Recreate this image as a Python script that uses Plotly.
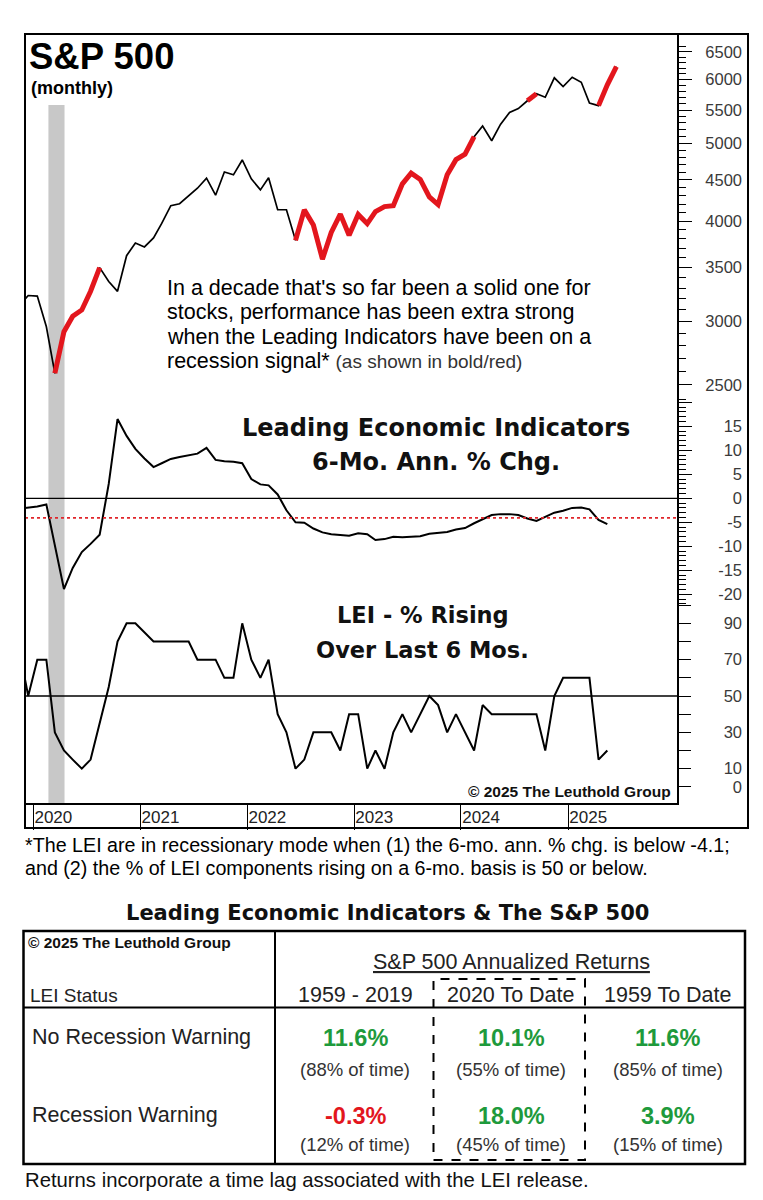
import plotly.graph_objects as go
import pandas as pd

W, H = 763, 1200


def px(x):
    return x / W


def py(y):
    return 1 - y / H


ARIAL = "Liberation Sans, Arial, sans-serif"
GEO = "DejaVu Sans, Liberation Sans, sans-serif"

# ---------------- data ----------------
sp500_start = "2019-11-01"
sp500 = [3141, 3231,
         3226, 2954, 2585, 2912, 3044, 3100, 3271, 3500, 3363, 3270, 3622, 3756,
         3714, 3811, 3973, 4181, 4204, 4298, 4395, 4523, 4308, 4605, 4567, 4766,
         4516, 4374, 4530, 4132, 4132, 3785, 4130, 3955, 3586, 3872, 4080, 3840,
         4077, 3970, 4109, 4169, 4180, 4450, 4589, 4508, 4288, 4194, 4568, 4770,
         4846, 5096, 5254, 5036, 5278, 5460, 5522, 5648, 5762, 5705, 6032, 5882,
         6041, 5955, 5612, 5569, 5912, 6230]
# 1 = LEI recession signal (drawn bold/red)
signal = [0, 0,
          0, 0, 1, 1, 1, 1, 1, 1, 0, 0, 0, 0,
          0, 0, 0, 0, 0, 0, 0, 0, 0, 0, 0, 0,
          0, 0, 0, 0, 0, 1, 1, 1, 1, 1, 1, 1,
          1, 1, 1, 1, 1, 1, 1, 1, 1, 1, 1, 1,
          1, 1, 0, 0, 0, 0, 0, 1, 1, 0, 0, 0,
          0, 0, 0, 1, 1, 1]

lei_start = "2019-11-01"
lei_chg = [-2.2, -2.0,
           -1.7, -1.3, -10.0, -18.9, -14.5, -11.2, -9.5, -7.6, 3.0, 16.5, 13.0, 10.3,
           8.3, 6.5, 7.3, 8.2, 8.6, 9.0, 9.3, 10.5, 8.0, 7.7, 7.6, 7.3,
           4.0, 2.9, 2.7, 0.8, -2.5, -5.0, -5.1, -6.3, -7.1, -7.5, -7.7, -7.8,
           -7.3, -7.5, -8.7, -8.5, -8.0, -8.1, -8.0, -7.9, -7.4, -7.2, -7.0, -6.5,
           -6.2, -5.2, -4.3, -3.5, -3.3, -3.3, -3.5, -4.2, -4.7, -3.8, -3.0, -2.6,
           -2.0, -1.9, -2.3, -4.5, -5.4]
pct_rising = [75, 50,
              70, 70, 30, 20, 15, 10, 15, 35, 55, 80, 90, 90,
              85, 80, 80, 80, 80, 80, 70, 70, 70, 60, 60, 90,
              70, 60, 70, 40, 30, 10, 15, 30, 30, 30, 20, 40,
              40, 10, 20, 10, 30, 40, 30, 40, 50, 45, 30, 40,
              30, 20, 45, 40, 40, 40, 40, 40, 40, 20, 50, 60,
              60, 60, 60, 15, 20]

recession_start, recession_end = "2020-02-22", "2020-04-17"
LEI_THRESHOLD = -4.1
RISING_THRESHOLD = 50

year_tickvals = ["2020-01-01", "2021-01-01", "2022-01-01", "2023-01-01", "2024-01-01", "2025-01-01"]
year_ticktext = ["2020", "2021", "2022", "2023", "2024", "2025"]
sp_tickvals = [2500, 3000, 3500, 4000, 4500, 5000, 5500, 6000, 6500]
sp_minor = list(range(2400, 6700, 100))
lei_tickvals = [-20, -15, -10, -5, 0, 5, 10, 15, 20]
lei_ticktext = ["-20", "-15", "-10", "-5", "0", "5", "10", "15", ""]
pct_tickvals = [0, 10, 20, 30, 40, 50, 60, 70, 80, 90, 100]
pct_ticktext = ["0", "10", "", "30", "", "50", "", "70", "", "90", ""]

table_cols = ["1959 - 2019", "2020 To Date", "1959 To Date"]
table_rows = ["No Recession Warning", "Recession Warning"]
table_returns = [[11.6, 10.1, 11.6], [-0.3, 18.0, 3.9]]
table_time = [[88, 55, 85], [12, 45, 15]]

# ---------------- figure ----------------
sp_dates = pd.date_range(sp500_start, periods=len(sp500), freq="MS") + pd.Timedelta(days=14)
lei_dates = pd.date_range(lei_start, periods=len(lei_chg), freq="MS") + pd.Timedelta(days=14)
sp_red = [v if s else None for v, s in zip(sp500, signal)]

fig = go.Figure()
fig.add_trace(go.Scatter(x=sp_dates, y=sp500, mode="lines", line=dict(color="black", width=1.7),
                         yaxis="y", hoverinfo="skip", showlegend=False))
fig.add_trace(go.Scatter(x=sp_dates, y=sp_red, mode="lines", line=dict(color="#e3161d", width=5),
                         connectgaps=False, yaxis="y", hoverinfo="skip", showlegend=False))
fig.add_trace(go.Scatter(x=lei_dates, y=lei_chg, mode="lines", line=dict(color="black", width=2),
                         yaxis="y2", hoverinfo="skip", showlegend=False))
fig.add_trace(go.Scatter(x=lei_dates, y=pct_rising, mode="lines", line=dict(color="black", width=2),
                         yaxis="y3", hoverinfo="skip", showlegend=False))
# transparent carriers for the right-aligned label axes
for ax, yy, dd in (("y4", sp500, sp_dates), ("y5", lei_chg, lei_dates), ("y6", pct_rising, lei_dates)):
    fig.add_trace(go.Scatter(x=dd, y=yy, mode="lines", line=dict(color="rgba(0,0,0,0)", width=0),
                             yaxis=ax, hoverinfo="skip", showlegend=False))

tickfont = dict(family=ARIAL, size=16.5, color="#3a3a3a")
common_right = dict(side="right", anchor="x", showline=True, linecolor="black", linewidth=1.5,
                    ticks="outside", tickcolor="black", tickwidth=1, showticklabels=False,
                    showgrid=False, zeroline=False, fixedrange=True)
label_axis = dict(side="left", anchor="free", position=px(742), showline=False, ticks="",
                  showgrid=False, zeroline=False, tickfont=tickfont, tickmode="array")

sp_range = [3.37673, 3.83501]
lei_range = [-22.23, 20.06]
pct_range = [-8.89, 100.08]

fig.update_layout(
    width=W, height=H, margin=dict(l=0, r=0, t=0, b=0),
    paper_bgcolor="white", plot_bgcolor="white", showlegend=False,
    xaxis=dict(domain=[px(25), px(677)], type="date", range=["2019-12-04", "2026-01-08"],
               anchor="y3", showline=True, linecolor="black", linewidth=1.5,
               ticks="outside", ticklen=25, tickwidth=1, tickcolor="black",
               tickmode="array", tickvals=year_tickvals, ticktext=year_ticktext,
               ticklabelposition="outside right", ticklabelstandoff=-2,
               tickfont=dict(family=ARIAL, size=17, color="#222"),
               showgrid=False, zeroline=False),
    yaxis=dict(domain=[py(402), py(34)], type="log", range=sp_range, ticklen=13,
               tickmode="array", tickvals=sp_tickvals,
               minor=dict(tickmode="array", tickvals=sp_minor, ticklen=7, ticks="outside",
                          tickcolor="black", tickwidth=1),
               **common_right),
    yaxis2=dict(domain=[py(605), py(402)], range=lei_range, ticklen=13,
                tickmode="array", tickvals=lei_tickvals,
                minor=dict(tickmode="linear", tick0=0, dtick=1, ticklen=7, ticks="outside",
                           tickcolor="black", tickwidth=1),
                **common_right),
    yaxis3=dict(domain=[py(803), py(605)], range=pct_range, ticklen=12,
                tickmode="array", tickvals=pct_tickvals, **common_right),
    yaxis4=dict(overlaying="y", type="log", range=sp_range, tickvals=sp_tickvals,
                ticktext=[str(v) for v in sp_tickvals], **label_axis),
    yaxis5=dict(overlaying="y2", range=lei_range, tickvals=lei_tickvals,
                ticktext=lei_ticktext, **label_axis),
    yaxis6=dict(overlaying="y3", range=pct_range, tickvals=pct_tickvals,
                ticktext=pct_ticktext, **label_axis),
)

shapes = [
    # recession band
    dict(type="rect", xref="x", yref="paper", x0=recession_start, x1=recession_end,
         y0=py(803), y1=py(105), fillcolor="#c8c8c8", line=dict(width=0), layer="below"),
    # reference lines
    dict(type="line", xref="x domain", yref="y2", x0=0, x1=1, y0=0, y1=0,
         line=dict(color="black", width=1.3)),
    dict(type="line", xref="x domain", yref="y2", x0=0, x1=1, y0=LEI_THRESHOLD, y1=LEI_THRESHOLD,
         line=dict(color="#e0262b", width=1.7, dash="dot")),
    dict(type="line", xref="x domain", yref="y3", x0=0, x1=1, y0=RISING_THRESHOLD, y1=RISING_THRESHOLD,
         line=dict(color="black", width=1.3)),
    # chart frame
    dict(type="rect", xref="paper", yref="paper", x0=px(25), x1=px(748), y0=py(828), y1=py(34),
         line=dict(color="black", width=2)),
    # table
    dict(type="rect", xref="paper", yref="paper", x0=px(23.5), x1=px(745), y0=py(1164), y1=py(931),
         line=dict(color="black", width=2.5)),
    dict(type="line", xref="paper", yref="paper", x0=px(275), x1=px(275), y0=py(1164), y1=py(931),
         line=dict(color="black", width=2)),
    dict(type="line", xref="paper", yref="paper", x0=px(23.5), x1=px(745), y0=py(1007.5), y1=py(1007.5),
         line=dict(color="black", width=2)),
    dict(type="rect", xref="paper", yref="paper", x0=px(433.5), x1=px(585), y0=py(1160), y1=py(979),
         line=dict(color="black", width=2, dash="dash")),
]


def ann(text, x, y, size, family=ARIAL, color="black", xanchor="left"):
    return dict(text=text, x=px(x), y=py(y), xref="paper", yref="paper", showarrow=False,
                font=dict(size=size, family=family, color=color), xanchor=xanchor,
                yanchor="middle", align=xanchor if xanchor != "center" else "center", borderpad=0)


anns = [
    ann("<b>S&P 500</b>", 28, 57, 36.5),
    ann("<b>(monthly)</b>", 30, 88, 18),
    ann("In a decade that's so far been a solid one for", 166, 287.5, 21.5),
    ann("stocks, performance has been extra strong", 166, 312, 21.5),
    ann("when the Leading Indicators have been on a", 166, 336.5, 21.5),
    ann("recession signal* <span style='font-size:19px;color:#333'>(as shown in bold/red)</span>",
        166, 361, 21.5),
    ann("<b>Leading Economic Indicators</b>", 436, 428.5, 24, GEO, "#111", "center"),
    ann("<b>6-Mo. Ann. % Chg.</b>", 436, 462, 24, GEO, "#111", "center"),
    ann("<b>LEI - % Rising</b>", 422.5, 615, 22.5, GEO, "#111", "center"),
    ann("<b>Over Last 6 Mos.</b>", 422.5, 650, 22.5, GEO, "#111", "center"),
    ann("<b>© 2025 The Leuthold Group</b>", 672, 791.5, 15.5, ARIAL, "#111", "right"),
    ann("*The LEI are in recessionary mode when (1) the 6-mo. ann. % chg. is below -4.1;", 24, 845, 19.7),
    ann("and (2) the % of LEI components rising on a 6-mo. basis is 50 or below.", 24, 868, 19.7),
    ann("<b>Leading Economic Indicators & The S&P 500</b>", 387, 913, 21, GEO, "#111", "center"),
    ann("<b>© 2025 The Leuthold Group</b>", 27, 942, 15.5, ARIAL, "#111"),
    ann("<u>S&P 500 Annualized Returns</u>", 511, 962, 21.5, ARIAL, "#222", "center"),
    ann("LEI Status", 29, 995, 19, ARIAL, "#222"),
    ann("Returns incorporate a time lag associated with the LEI release.", 24, 1180, 20.3, ARIAL, "#111"),
]

col_x = [355, 511, 667.5]
for cx, name in zip(col_x, table_cols):
    anns.append(ann(name, cx, 995, 21.5, ARIAL, "#222", "center"))

row_y = [(1037, 1069.5), (1115, 1144)]
for (ry, ty), name, rets, times in zip(row_y, table_rows, table_returns, table_time):
    anns.append(ann(name, 31, ry, 21.5, ARIAL, "#222"))
    for cx, r, t in zip(col_x, rets, times):
        color = "#1e9a3c" if r >= 0 else "#e3161d"
        anns.append(ann(f"<b>{r:.1f}%</b>", cx, ry + 1, 23.5, ARIAL, color, "center"))
        anns.append(ann(f"({t}% of time)", cx, ty, 18.5, ARIAL, "#333", "center"))

fig.update_layout(shapes=shapes, annotations=anns)
fig.write_html("out.html", config={"displayModeBar": False},
               post_script="document.body.style.margin='0px';document.body.style.overflow='hidden';")
